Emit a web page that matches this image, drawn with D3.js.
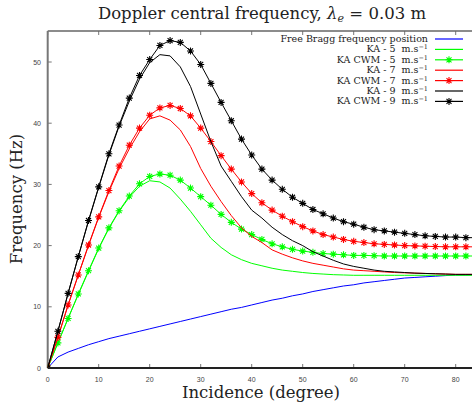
<!DOCTYPE html>
<html>
<head>
<script src="https://cdnjs.cloudflare.com/ajax/libs/d3/7.8.5/d3.min.js"></script>
<style>
  body { margin: 0; background: #fff; }
  svg { display: block; }
  .tick-label { font-family: "Liberation Sans", Arial, sans-serif; font-size: 7px; fill: #444; }
  .serif { font-family: "DejaVu Serif", "Liberation Serif", serif; fill: #222; white-space: pre; }
</style>
</head>
<body>
<div id="chart"></div>
<script>
// incidence angles (degrees)
const incidence = d3.range(0, 86, 2);

const bragg = [0, 1.8, 2.6, 3.2, 3.8, 4.3, 4.8, 5.2, 5.6, 6.0, 6.4, 6.8, 7.2, 7.6, 8.0, 8.4, 8.8, 9.2, 9.6, 9.9,
  10.3, 10.7, 11.1, 11.4, 11.8, 12.1, 12.5, 12.8, 13.1, 13.4, 13.6, 13.9, 14.1, 14.3, 14.5, 14.7, 14.8, 14.9, 15.0, 15.1, 15.2, 15.2, 15.25];

const ka5 = [0, 4.1, 8.1, 12.0, 15.8, 19.5, 22.8, 25.6, 27.9, 29.7, 30.6, 30.4, 29.4, 27.6, 25.6, 23.4, 21.2, 19.7, 18.5, 17.7,
  17.1, 16.7, 16.3, 16.0, 15.8, 15.6, 15.45, 15.35, 15.25, 15.2, 15.15, 15.15, 15.15, 15.15, 15.15, 15.15, 15.15, 15.15, 15.15, 15.15, 15.15, 15.15, 15.15];

const cwm5 = [0, 4.1, 8.1, 12.1, 15.9, 19.6, 22.9, 25.7, 28.1, 30.1, 31.3, 31.7, 31.5, 30.7, 29.4, 28.0, 26.6, 25.1, 23.8, 22.7,
  21.8, 21.0, 20.3, 19.8, 19.4, 19.1, 18.9, 18.7, 18.6, 18.5, 18.4, 18.4, 18.35, 18.3, 18.3, 18.3, 18.3, 18.3, 18.3, 18.3, 18.3, 18.3, 18.3];

const ka7 = [0, 5.0, 10.3, 15.2, 20.0, 24.6, 28.8, 32.6, 35.8, 38.6, 40.7, 41.2, 40.5, 38.9, 36.2, 32.6, 29.7, 27.2, 24.9, 22.9,
  21.5, 20.5, 19.3, 18.6, 18.0, 17.5, 17.1, 16.8, 16.5, 16.2, 16.0, 15.9, 15.8, 15.7, 15.6, 15.55, 15.5, 15.45, 15.4, 15.35, 15.3, 15.3, 15.3];

const cwm7 = [0, 5.0, 10.3, 15.2, 20.1, 24.7, 29.0, 33.0, 36.4, 39.2, 41.3, 42.5, 42.9, 42.4, 41.2, 39.2, 37.0, 34.7, 32.5, 30.4,
  28.5, 27.0, 25.8, 24.8, 23.9, 23.1, 22.4, 21.8, 21.4, 21.0, 20.7, 20.5, 20.3, 20.2, 20.1, 20.0, 19.95, 19.9, 19.85, 19.8, 19.8, 19.8, 19.8];

const ka9 = [0, 6.0, 12.2, 18.2, 24.0, 29.5, 34.8, 39.5, 43.6, 47.2, 49.9, 51.2, 51.0, 49.2, 46.0, 41.5, 37.0, 33.0, 30.5, 28.0,
  25.8, 24.5, 23.0, 21.8, 20.8, 20.0, 19.0, 18.3, 17.6, 17.0, 16.6, 16.3, 16.0, 15.8, 15.7, 15.6, 15.5, 15.45, 15.4, 15.35, 15.3, 15.3, 15.3];

const cwm9 = [0, 6.0, 12.2, 18.2, 24.1, 29.6, 35.0, 39.7, 44.1, 47.8, 50.4, 52.7, 53.5, 53.2, 51.8, 49.6, 46.5, 43.4, 40.4, 37.4,
  34.8, 32.5, 30.7, 29.2, 27.9, 26.9, 25.9, 25.2, 24.5, 23.9, 23.5, 23.0, 22.6, 22.4, 22.2, 22.0, 21.8, 21.6, 21.5, 21.4, 21.4, 21.3, 21.3];

const seriesNames = [
  "Free Bragg frequency position",
  "KA - 5  m.s", "KA CWM - 5  m.s",
  "KA - 7  m.s", "KA CWM - 7  m.s",
  "KA - 9  m.s", "KA CWM - 9  m.s"
];
const seriesValues = [bragg, ka5, cwm5, ka7, cwm7, ka9, cwm9];
const seriesColors = ["#0000ff", "#00ff00", "#00ff00", "#ff0000", "#ff0000", "#000000", "#000000"];
const seriesMarkers = [false, false, true, false, true, false, true];

const xTicks = [0, 10, 20, 30, 40, 50, 60, 70, 80];
const yTicks = [0, 10, 20, 30, 40, 50];

const width = 472, height = 403;
const x0 = 47.7, plotTop = 31, plotBottom = 368;

const svg = d3.select("#chart").append("svg")
  .attr("width", width).attr("height", height);

const x = d3.scaleLinear().domain([0, 85]).range([x0, x0 + 433.5]);
const y = d3.scaleLinear().domain([0, 55]).range([plotBottom, plotBottom - 55 * 6.12]);

svg.append("clipPath").attr("id", "clip")
  .append("rect").attr("x", x0).attr("y", plotTop).attr("width", width - x0).attr("height", plotBottom - plotTop);

// ticks (inside, bottom + top, left)
const tickG = svg.append("g").attr("stroke", "#777").attr("stroke-width", 1);
xTicks.forEach(t => {
  tickG.append("line").attr("x1", x(t)).attr("x2", x(t)).attr("y1", plotBottom).attr("y2", plotBottom - 4);
  tickG.append("line").attr("x1", x(t)).attr("x2", x(t)).attr("y1", plotTop).attr("y2", plotTop + 4);
});
yTicks.forEach(t => {
  tickG.append("line").attr("x1", x0).attr("x2", x0 + 4).attr("y1", y(t)).attr("y2", y(t));
});

// frame
svg.append("line").attr("x1", x0).attr("x2", width).attr("y1", plotTop).attr("y2", plotTop)
  .attr("stroke", "#666").attr("stroke-width", 1.5);
svg.append("line").attr("x1", x0).attr("x2", x0).attr("y1", plotTop).attr("y2", plotBottom)
  .attr("stroke", "#777").attr("stroke-width", 2);

// tick labels
svg.append("g").selectAll("text").data(xTicks).join("text")
  .attr("class", "tick-label")
  .attr("x", d => x(d)).attr("y", 382)
  .attr("text-anchor", "middle")
  .text(d => d);
svg.append("g").selectAll("text").data(yTicks).join("text")
  .attr("class", "tick-label")
  .attr("x", 41).attr("y", d => y(d) + 2.5)
  .attr("text-anchor", "end")
  .text(d => d);

// series
const line = d3.line().x((d, i) => x(incidence[i])).y(d => y(d));
const star = "M-3.5,0H3.5M0,-3.5V3.5M-2.5,-2.5L2.5,2.5M-2.5,2.5L2.5,-2.5";

const plot = svg.append("g").attr("clip-path", "url(#clip)");
seriesValues.forEach((vals, s) => {
  plot.append("path").datum(vals)
    .attr("fill", "none")
    .attr("stroke", seriesColors[s])
    .attr("stroke-width", 1)
    .attr("d", line);
  if (seriesMarkers[s]) {
    plot.append("g").selectAll("path").data(vals).join("path")
      .attr("transform", (d, i) => `translate(${x(incidence[i])},${y(d)})`)
      .attr("d", star)
      .attr("fill", "none")
      .attr("stroke", seriesColors[s])
      .attr("stroke-width", 1.1);
  }
});

// bottom axis line drawn over
svg.append("line").attr("x1", x0).attr("x2", width).attr("y1", plotBottom).attr("y2", plotBottom)
  .attr("stroke", "#222").attr("stroke-width", 2);

// legend
const legend = svg.append("g");
seriesNames.forEach((name, i) => {
  const ly = 39 + i * 10.4;
  const t = legend.append("text").attr("class", "serif")
    .attr("x", 428).attr("y", ly + 3)
    .attr("text-anchor", "end")
    .attr("font-size", 9.5);
  t.append("tspan").text(name);
  if (i > 0) {
    t.append("tspan").attr("font-size", 6.5).attr("dy", -3).text("\u22121");
  }
  legend.append("line").attr("x1", 435).attr("x2", 463).attr("y1", ly).attr("y2", ly)
    .attr("stroke", seriesColors[i]).attr("stroke-width", 1.2);
  if (seriesMarkers[i]) {
    legend.append("path").attr("transform", `translate(449,${ly})`)
      .attr("d", star).attr("fill", "none")
      .attr("stroke", seriesColors[i]).attr("stroke-width", 1.1);
  }
});

// title
const title = svg.append("text").attr("class", "serif")
  .attr("x", 262).attr("y", 19).attr("text-anchor", "middle").attr("font-size", 16.5);
title.append("tspan").text("Doppler central frequency, ");
title.append("tspan").attr("font-style", "italic").text("\u03bb");
title.append("tspan").attr("font-style", "italic").attr("font-size", 11).attr("dy", 3).text("e");
title.append("tspan").attr("dy", -3).text(" = 0.03 m");

// axis titles
svg.append("text").attr("class", "serif")
  .attr("x", 261).attr("y", 398).attr("text-anchor", "middle").attr("font-size", 16.5)
  .text("Incidence (degree)");
svg.append("text").attr("class", "serif")
  .attr("transform", "translate(22,199) rotate(-90)")
  .attr("text-anchor", "middle").attr("font-size", 16.5)
  .text("Frequency (Hz)");
</script>
</body>
</html>
